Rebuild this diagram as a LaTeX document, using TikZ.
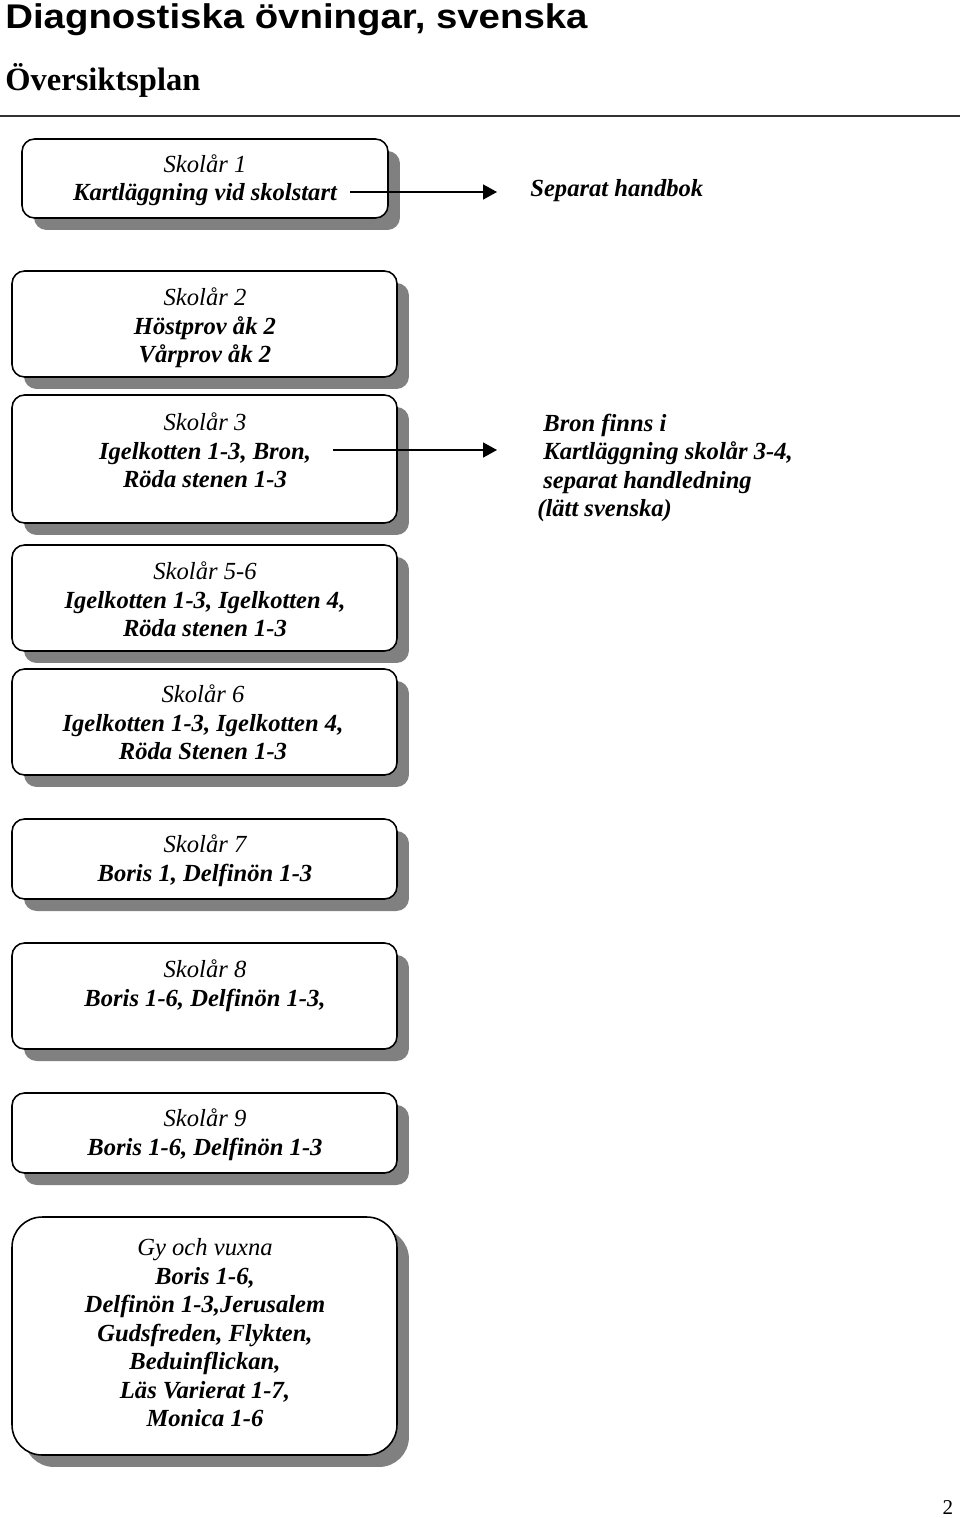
\documentclass[tikz,border=0pt]{standalone}
\usepackage{fontspec}
\setmainfont{Liberation Serif}
\newfontfamily\rubrikfont[FakeStretch=1.12]{Liberation Sans}
\usetikzlibrary{arrows.meta,shadows}

\tikzset{
  ruta/.style={draw=black, line width=0.9pt, fill=white, rounded corners=0.25cm,
    drop shadow={shadow xshift=0.24cm, shadow yshift=-0.24cm, fill=black!50, opacity=1}},
  rutatext/.style={font=\fontsize{14}{16.2}\selectfont\bfseries\itshape, align=center,
    anchor=north, inner sep=0pt},
  sidotext/.style={font=\fontsize{14}{16.2}\selectfont\bfseries\itshape, inner sep=0pt},
  pil/.style={line width=0.9pt, -{Triangle[length=0.28cm, width=0.3cm]}}
}

\begin{document}
\begin{tikzpicture}[x=0.02cm, y=-0.02cm]
\useasboundingbox (0,0) rectangle (960,1518);
% rubriker
\node[font=\rubrikfont\fontsize{19.5}{22}\selectfont\bfseries, anchor=base west, inner sep=0pt]
  (rubrik) at (5,28) {Diagnostiska övningar, svenska};
\node[font=\fontsize{18.5}{22}\selectfont\bfseries, anchor=base west, inner sep=0pt]
  (plan) at (5,90) {Översiktsplan};
\draw[line width=0.6pt, black!80] (0,116) -- (960,116);
% rutor
\node[ruta, minimum width=7.32cm, minimum height=1.58cm] (s1) at (205,178.5) {};
\node[ruta, minimum width=7.7cm, minimum height=2.12cm] (s2) at (204.5,324) {};
\node[ruta, minimum width=7.7cm, minimum height=2.56cm] (s3) at (204.5,459) {};
\node[ruta, minimum width=7.7cm, minimum height=2.12cm] (s56) at (204.5,598) {};
\node[ruta, minimum width=7.7cm, minimum height=2.12cm] (s6) at (204.5,722) {};
\node[ruta, minimum width=7.7cm, minimum height=1.6cm] (s7) at (204.5,859) {};
\node[ruta, minimum width=7.7cm, minimum height=2.12cm] (s8) at (204.5,996) {};
\node[ruta, minimum width=7.7cm, minimum height=1.6cm] (s9) at (204.5,1133) {};
\node[ruta, rounded corners=0.6cm, minimum width=7.7cm, minimum height=4.76cm] (gy) at (204.5,1336) {};
% texter i rutorna
\node[rutatext] (t1) at (205,154) {{\mdseries Skolår 1}\\Kartläggning vid skolstart};
\node[rutatext] (t2) at (205,287.5) {{\mdseries Skolår 2}\\Höstprov åk 2\\Vårprov åk 2};
\node[rutatext] (t3) at (205,412.5) {{\mdseries Skolår 3}\\Igelkotten 1-3, Bron,\\Röda stenen 1-3};
\node[rutatext] (t56) at (205,561.5) {{\mdseries Skolår 5-6}\\Igelkotten 1-3, Igelkotten 4,\\Röda stenen 1-3};
\node[rutatext] (t6) at (203,684.5) {{\mdseries Skolår 6}\\Igelkotten 1-3, Igelkotten 4,\\Röda Stenen 1-3};
\node[rutatext] (t7) at (205,834.5) {{\mdseries Skolår 7}\\Boris 1, Delfinön 1-3};
\node[rutatext] (t8) at (205,959.5) {{\mdseries Skolår 8}\\Boris 1-6, Delfinön 1-3,};
\node[rutatext] (t9) at (205,1108.5) {{\mdseries Skolår 9}\\Boris 1-6, Delfinön 1-3};
\node[rutatext] (tgy) at (205,1238.5) {{\mdseries Gy och vuxna}\\Boris 1-6,\\Delfinön 1-3,Jerusalem\\
  Gudsfreden, Flykten,\\Beduinflickan,\\Läs Varierat 1-7,\\Monica 1-6};
% pilar
\node[sidotext, anchor=west] (handbok) at (530,191) {Separat handbok};
\node[sidotext, align=left, anchor=north west] (bron) at (543,413.5)
  {Bron finns i\\Kartläggning skolår 3-4,\\separat handledning\\\hspace*{-0.12cm}(lätt svenska)};
\coordinate (a1) at (350,192);
\coordinate (a2) at (333,450);
\draw[pil, shorten >=0.66cm] (a1) -- (a1 -| handbok.west);
\draw[pil, shorten >=0.92cm] (a2) -- (a2 -| bron.west);
% sidnummer
\node[font=\fontsize{12}{14}\selectfont, anchor=base, inner sep=0pt] (sida) at (948,1514) {2};
\end{tikzpicture}
\end{document}
